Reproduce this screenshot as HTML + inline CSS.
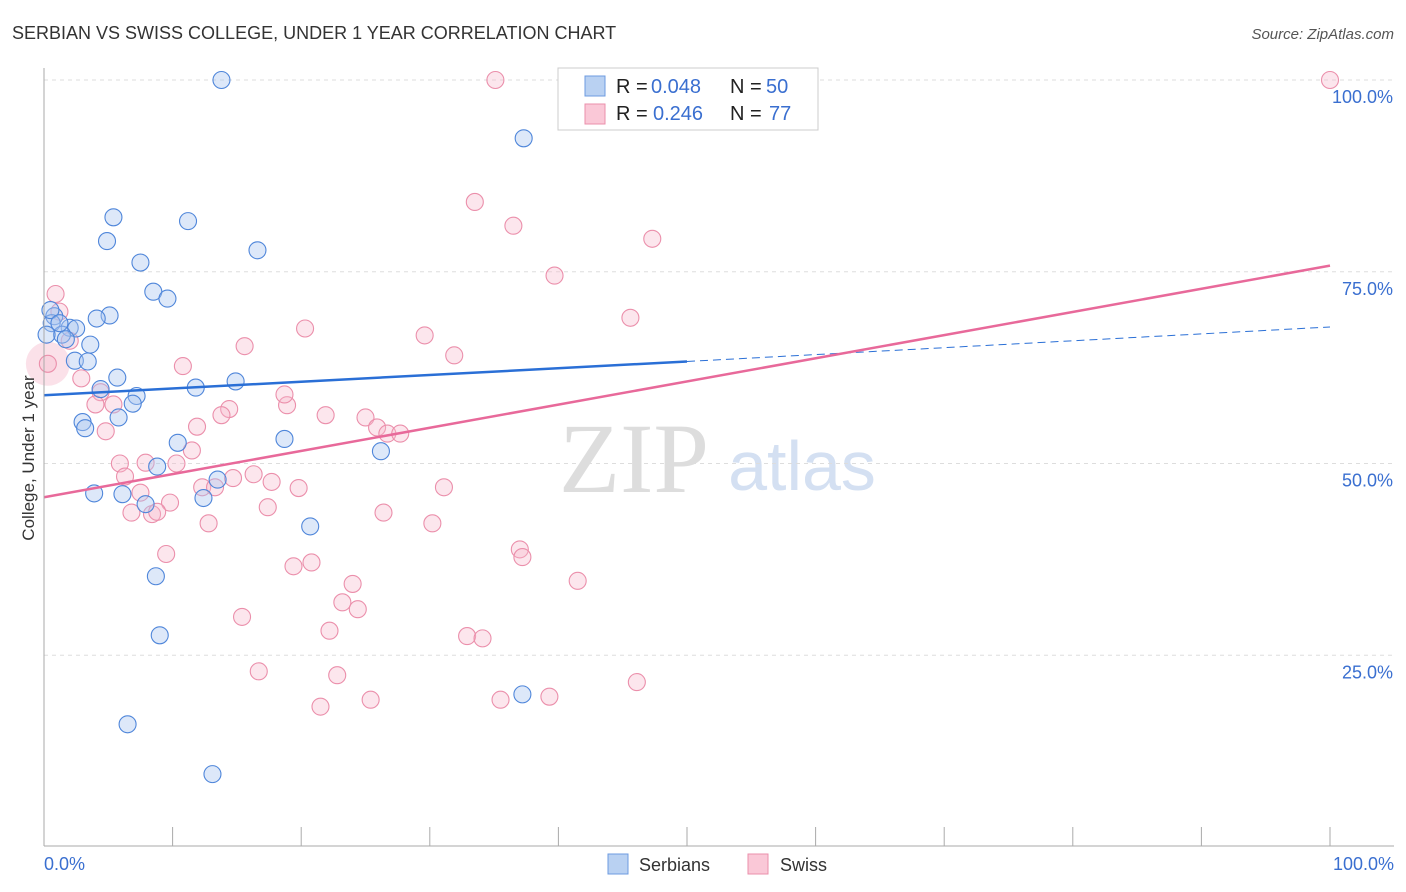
<!DOCTYPE html>
<html><head><meta charset="utf-8"><style>
body{margin:0;background:#fff;font-family:"Liberation Sans",sans-serif}
svg{display:block}
</style></head><body>
<svg id="c" width="1406" height="892">
<text x="12" y="39" font-size="18" fill="#333">SERBIAN VS SWISS COLLEGE, UNDER 1 YEAR CORRELATION CHART</text>
<text x="1394" y="39" font-size="15" fill="#555" font-style="italic" text-anchor="end">Source: ZipAtlas.com</text>
<text x="634" y="492" font-size="100" fill="#ddd" font-family="Liberation Serif,serif" text-anchor="middle">ZIP</text>
<text x="802" y="490" font-size="70" fill="#d4e0f2" text-anchor="middle">atlas</text>
<g id="grid"></g><g id="pts"></g><g id="lines"></g>
<line x1="44" y1="68" x2="44" y2="846" stroke="#aaa"/>
<line x1="44" y1="846" x2="1394" y2="846" stroke="#aaa"/>
<text x="34" y="458" font-size="17" fill="#333" text-anchor="middle" transform="rotate(-90 34 458)">College, Under 1 year</text>
<text x="44" y="870" font-size="18" fill="#3a6fd0">0.0%</text>
<text x="1394" y="870" font-size="18" fill="#3a6fd0" text-anchor="end">100.0%</text>
<g font-size="20">
<rect x="558" y="68" width="260" height="62" fill="#fff" stroke="#ccc"/>
<rect x="585" y="76" width="20" height="20" fill="#b9d1f2" stroke="#6d9be0"/>
<rect x="585" y="104" width="20" height="20" fill="#fac8d7" stroke="#eb8fab"/>
<text x="616" y="93" fill="#222">R =</text><text x="651" y="93" fill="#3a6fd0">0.048</text>
<text x="730" y="93" fill="#222">N =</text><text x="766" y="93" fill="#3a6fd0">50</text>
<text x="616" y="120" fill="#222">R =</text><text x="653" y="120" fill="#3a6fd0">0.246</text>
<text x="730" y="120" fill="#222">N =</text><text x="769" y="120" fill="#3a6fd0">77</text>
</g>
<g>
<rect x="608" y="854" width="20" height="20" fill="#b9d1f2" stroke="#6d9be0"/>
<text x="639" y="871" font-size="18" fill="#333">Serbians</text>
<rect x="748" y="854" width="20" height="20" fill="#fac8d7" stroke="#eb8fab"/>
<text x="780" y="871" font-size="18" fill="#333">Swiss</text>
</g>
</svg>
<script>
const blueX=[13.8,37.3,5.4,11.2,4.9,16.6,7.5,8.5,9.6,5.1,4.1,0.8,0.6,2.0,2.5,1.4,1.7,3.6,2.4,3.4,5.7,14.9,11.8,4.4,7.2,6.9,5.8,3.0,3.2,10.4,18.7,26.2,8.8,13.5,3.9,6.1,12.4,7.9,20.7,8.7,9.0,37.2,6.5,13.1,0.5,0.2,1.2];
const blueY=[100,92.4,82.1,81.6,79.0,77.8,76.2,72.4,71.5,69.3,68.9,69.2,68.3,67.7,67.6,66.8,66.2,65.5,63.4,63.3,61.2,60.7,59.9,59.7,58.8,57.8,56.0,55.4,54.6,52.7,53.2,51.6,49.6,47.9,46.1,46.0,45.5,44.7,41.8,35.3,27.6,19.9,16.0,9.5,70.0,66.8,68.3];
const pinkX=[35.1,100,52.4,33.5,36.5,47.3,39.7,0.9,1.2,45.6,20.3,29.6,15.6,31.9,10.8,2.0,2.9,4.4,4.0,5.4,14.4,18.9,18.7,21.9,25.0,13.8,11.9,4.8,25.9,26.7,27.7,11.5,5.9,7.9,10.3,16.3,14.7,12.3,13.3,17.7,19.8,6.3,31.1,7.5,9.8,17.4,6.8,8.4,8.8,26.4,30.2,12.8,9.5,37.0,37.2,19.4,20.8,24.0,41.5,23.2,24.4,15.4,22.2,32.9,34.1,16.7,22.8,46.1,39.3,35.5,25.4,21.5,0.3];
const pinkY=[100,100,100,84.1,81.0,79.3,74.5,72.1,69.8,69.0,67.6,66.7,65.3,64.1,62.7,66.0,61.1,59.3,57.7,57.7,57.1,57.6,59.0,56.3,56.0,56.3,54.8,54.2,54.7,53.9,53.9,51.7,50.0,50.1,50.0,48.6,48.1,46.9,46.9,47.6,46.8,48.3,46.9,46.2,44.9,44.3,43.6,43.4,43.7,43.6,42.2,42.2,38.2,38.8,37.8,36.6,37.1,34.3,34.7,31.9,31.0,30.0,28.2,27.5,27.2,22.9,22.4,21.5,19.6,19.2,19.2,18.3,63.0];
const blueLine=[[0,58.9],[50,63.3],[100,67.8]];
const pinkLine=[[0,45.6],[100,75.8]];
const yTicks=[25,50,75,100];
const xTicks=[0,10,20,30,40,50,60,70,80,90,100];
const NS='http://www.w3.org/2000/svg';
const X=v=>44+v*12.86, Y=v=>847-v*7.67;
function mk(t,a,p){const e=document.createElementNS(NS,t);for(const k in a)e.setAttribute(k,a[k]);p.appendChild(e);return e;}
const grid=document.getElementById('grid'),pts=document.getElementById('pts'),lines=document.getElementById('lines');
yTicks.forEach(v=>{
 const l=mk('line',{x1:44,x2:1394,y1:Y(v),y2:Y(v),stroke:'#ddd','stroke-dasharray':'4 4'},grid);
 
 
 const t=mk('text',{x:1393,y:Y(v)+23,'font-size':18,fill:'#3a6fd0','text-anchor':'end'},grid);t.textContent=v.toFixed(1)+'%';
 
 
});
xTicks.forEach(v=>{
 const l=mk('line',{x1:X(v),x2:X(v),y1:827,y2:846,stroke:'#aaa'},grid);
 
 
});
const big=mk('circle',{cx:X(0.3),cy:Y(63),r:22,fill:'#f7c3d3','fill-opacity':0.5},pts);


pinkX.forEach((x,i)=>{
 const c=mk('circle',{cx:X(x),cy:Y(pinkY[i]),r:8.5,fill:'#f7b6ca','fill-opacity':0.35,stroke:'#eb8fab','stroke-width':1.1},pts);
 
 
});
blueX.forEach((x,i)=>{
 const c=mk('circle',{cx:X(x),cy:Y(blueY[i]),r:8.5,fill:'#a9c6ef','fill-opacity':0.4,stroke:'#4f86da','stroke-width':1.1},pts);
 
 
});
let l=mk('line',{x1:X(blueLine[0][0]),y1:Y(blueLine[0][1]),x2:X(blueLine[1][0]),y2:Y(blueLine[1][1]),stroke:'#2a6fd6','stroke-width':2.5},lines);


l=mk('line',{x1:X(blueLine[1][0]),y1:Y(blueLine[1][1]),x2:X(blueLine[2][0]),y2:Y(blueLine[2][1]),stroke:'#2a6fd6','stroke-width':1,'stroke-dasharray':'8 5'},lines);


l=mk('line',{x1:X(pinkLine[0][0]),y1:Y(pinkLine[0][1]),x2:X(pinkLine[1][0]),y2:Y(pinkLine[1][1]),stroke:'#e8699a','stroke-width':2.5},lines);


</script>
</body></html>
